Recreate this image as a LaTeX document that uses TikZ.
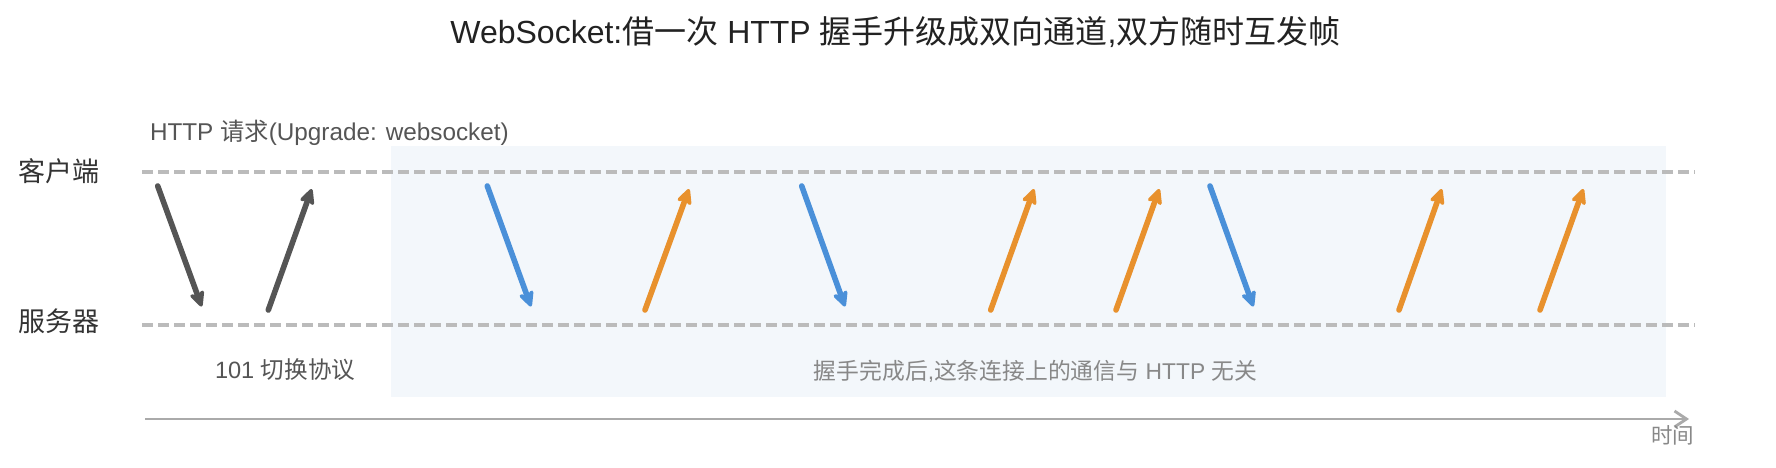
\documentclass[tikz,border=0pt]{standalone}
\usepackage{fontspec}
\setmainfont{Liberation Sans}
\newfontfamily\cjk{Noto Sans CJK SC}
\usetikzlibrary{arrows.meta}
\definecolor{panelbg}{HTML}{F3F7FB}
\definecolor{lanegray}{HTML}{BBBBBB}
\definecolor{axisgray}{HTML}{AAAAAA}
\definecolor{darkarrow}{HTML}{555555}
\definecolor{bluearrow}{HTML}{4A90D9}
\definecolor{orangearrow}{HTML}{E8912D}
\definecolor{titlecol}{HTML}{222222}
\definecolor{sidecol}{HTML}{333333}
\definecolor{notecol}{HTML}{555555}
\definecolor{softcol}{HTML}{888888}
\begin{document}
\begin{tikzpicture}[x=1pt,y=-1pt,
  txt/.style={inner sep=0pt, outer sep=0pt},
  lane/.style={draw=lanegray, line width=3.4pt, dash pattern=on 11pt off 5pt},
  msg/.style={line width=5.6pt, line cap=round, -{Stealth[length=20pt,width=19pt,inset=6pt,round]}},
  darkmsg/.style={msg, draw=darkarrow},
  bluemsg/.style={msg, draw=bluearrow},
  orangemsg/.style={msg, draw=orangearrow},
  timeaxis/.style={draw=axisgray, line width=2.8pt, -{Straight Barb[length=12pt,width=16pt]}}
]
\useasboundingbox (0,0) rectangle (1776,467);
% panel
\fill[panelbg] (391,146) rectangle (1666,397);
% lanes
\coordinate (cl0) at (142,172); \coordinate (cl1) at (1695,172);
\coordinate (sl0) at (142,325); \coordinate (sl1) at (1695,325);
\draw[lane] (cl0) -- (cl1);
\draw[lane] (sl0) -- (sl1);
% time axis
\coordinate (ta0) at (145,419); \coordinate (ta1) at (1689,419);
\draw[timeaxis] (ta0) -- (ta1);
% texts
\node[txt, anchor=base, text=titlecol, font=\fontsize{32}{38}\selectfont] (title) at (895.5,43)
  {WebSocket:{\cjk 借一次} HTTP {\cjk 握手升级成双向通道},{\cjk 双方随时互发帧}};
\node[txt, anchor=base west, text=notecol, font=\fontsize{24.3}{29}\selectfont] (req) at (150,140)
  {HTTP {\cjk 请求}(Upgrade: websocket)};
\node[txt, anchor=base west, text=sidecol, font=\cjk\fontsize{27}{32}\selectfont] (client) at (18,181.5) {客户端};
\node[txt, anchor=base west, text=sidecol, font=\cjk\fontsize{27}{32}\selectfont] (server) at (18,331.5) {服务器};
\node[txt, anchor=base west, text=notecol, font=\fontsize{23.6}{28}\selectfont] (resp) at (215,378)
  {101 {\cjk 切换协议}};
\node[txt, anchor=base, text=softcol, font=\fontsize{22.8}{27}\selectfont] (note) at (1035.5,379)
  {{\cjk 握手完成后},{\cjk 这条连接上的通信与} HTTP {\cjk 无关}};
\node[txt, anchor=base east, text=softcol, font=\cjk\fontsize{21.5}{26}\selectfont] (time) at (1694,443) {时间};
% message arrows (down: client -> server, up: server -> client)
\foreach \nm/\xa/\xb/\dir/\sty in {
  d1/157.7/201.7/down/darkmsg,
  d2/268.3/311.7/up/darkmsg,
  b1/487.3/531/down/bluemsg,
  o1/645/689/up/orangemsg,
  b2/801.7/845/down/bluemsg,
  o2/990.7/1034/up/orangemsg,
  o3/1116/1159.3/up/orangemsg,
  b3/1210/1253.3/down/bluemsg,
  o4/1399/1441.7/up/orangemsg,
  o5/1540/1583.3/up/orangemsg}{
  \ifnum\pdfstrcmp{\dir}{down}=0
    \coordinate (\nm s) at (\xa,186);
    \coordinate (\nm e) at (\xb,306.5);
  \else
    \coordinate (\nm s) at (\xa,310);
    \coordinate (\nm e) at (\xb,189);
  \fi
  \draw[\sty] (\nm s) -- (\nm e);
}
\end{tikzpicture}
\end{document}
